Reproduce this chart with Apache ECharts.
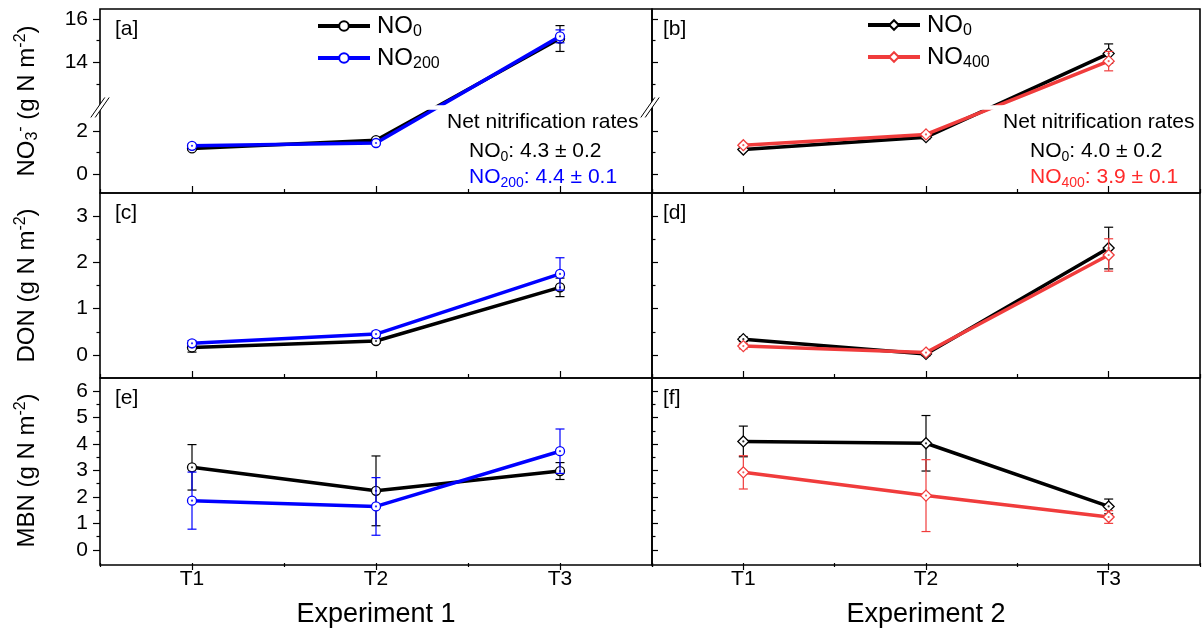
<!DOCTYPE html>
<html><head><meta charset="utf-8">
<script src="https://cdn.jsdelivr.net/npm/echarts@6.0.0/dist/echarts.min.js"></script>
<style>html,body{margin:0;padding:0;background:#fff;} #c{width:1204px;height:629px;}</style>
</head><body><div id="c"></div>
<script>
// ---------------- DATA ----------------
const categories = ['T1', 'T2', 'T3'];
// NO3- (g N m-2)
const no3_e1_NO0 = [1.20, 1.58, 15.10];
const no3_e1_NO0_err = [0.08, 0.10, 0.60];
const no3_e1_NO200 = [1.32, 1.45, 15.20];
const no3_e1_NO200_err = [0.08, 0.08, 0.30];
const no3_e2_NO0 = [1.15, 1.72, 14.40];
const no3_e2_NO0_err = [0.06, 0.08, 0.45];
const no3_e2_NO400 = [1.35, 1.85, 14.05];
const no3_e2_NO400_err = [0.08, 0.08, 0.45];
// DON (g N m-2)
const don_e1_NO0 = [0.16, 0.30, 1.46];
const don_e1_NO0_err = [0.10, 0.05, 0.20];
const don_e1_NO200 = [0.25, 0.45, 1.75];
const don_e1_NO200_err = [0.06, 0.06, 0.35];
const don_e2_NO0 = [0.34, 0.02, 2.31];
const don_e2_NO0_err = [0.05, 0.04, 0.45];
const don_e2_NO400 = [0.19, 0.05, 2.16];
const don_e2_NO400_err = [0.06, 0.04, 0.35];
// MBN (g N m-2)
const mbn_e1_NO0 = [3.12, 2.23, 2.98];
const mbn_e1_NO0_err = [0.86, 1.32, 0.32];
const mbn_e1_NO200 = [1.86, 1.64, 3.73];
const mbn_e1_NO200_err = [1.08, 1.09, 0.84];
const mbn_e2_NO0 = [4.10, 4.03, 1.64];
const mbn_e2_NO0_err = [0.58, 1.05, 0.28];
const mbn_e2_NO400 = [2.93, 2.05, 1.24];
const mbn_e2_NO400_err = [0.63, 1.36, 0.24];
// tick values
const no3Ticks = [0, 2, 14, 16];
const no3MinorTicks = [1, 13, 15];
const no3Break = { start: 3, end: 12 };
const donTicks = [0, 1, 2, 3];
const donMinorTicks = [0.5, 1.5, 2.5];
const mbnTicks = [0, 1, 2, 3, 4, 5, 6];
const mbnMinorTicks = [0.5, 1.5, 2.5, 3.5, 4.5, 5.5];
const experiments = ['Experiment 1', 'Experiment 2'];
const rates_e1 = ['4.3 ± 0.2', '4.4 ± 0.1'];
const rates_e2 = ['4.0 ± 0.2', '3.9 ± 0.1'];

// ---------------- STYLE / LAYOUT ----------------
const FONT = 'Liberation Sans, Arial, sans-serif';
const BLACK = '#000000', BLUE = '#0000ff', RED = '#f03c3c';
const COLX = [{ left: 100, width: 552 }, { left: 652, width: 548 }];
const ROWY = [
  { top: 9, height: 184, min: -0.87, max: 16.47, major: no3Ticks, minor: no3MinorTicks, breaks: [no3Break],
    name: '{n|NO}{sub|3}{sup|-}{n| (g N m}{sup|-2}{n|)}' },
  { top: 193, height: 185, min: -0.5, max: 3.5, major: donTicks, minor: donMinorTicks,
    name: '{n|DON (g N m}{sup|-2}{n|)}' },
  { top: 378, height: 187, min: -0.5, max: 6.5, major: mbnTicks, minor: mbnMinorTicks,
    name: '{n|MBN (g N m}{sup|-2}{n|)}' }
];
const nameRich = {
  n: { fontSize: 24, fontFamily: FONT, color: '#000', lineHeight: 28 },
  sub: { fontSize: 16, fontFamily: FONT, color: '#000', lineHeight: 16, verticalAlign: 'bottom' },
  sup: { fontSize: 16, fontFamily: FONT, color: '#000', lineHeight: 16, verticalAlign: 'top' }
};

const panels = [
  { row: 0, col: 0, s: [['NO0-1', no3_e1_NO0, no3_e1_NO0_err, BLACK, 'circle'], ['NO200-1', no3_e1_NO200, no3_e1_NO200_err, BLUE, 'circle']] },
  { row: 0, col: 1, s: [['NO0-2', no3_e2_NO0, no3_e2_NO0_err, BLACK, 'diamond'], ['NO400-2', no3_e2_NO400, no3_e2_NO400_err, RED, 'diamond']] },
  { row: 1, col: 0, s: [['NO0-1', don_e1_NO0, don_e1_NO0_err, BLACK, 'circle'], ['NO200-1', don_e1_NO200, don_e1_NO200_err, BLUE, 'circle']] },
  { row: 1, col: 1, s: [['NO0-2', don_e2_NO0, don_e2_NO0_err, BLACK, 'diamond'], ['NO400-2', don_e2_NO400, don_e2_NO400_err, RED, 'diamond']] },
  { row: 2, col: 0, s: [['NO0-1', mbn_e1_NO0, mbn_e1_NO0_err, BLACK, 'circle'], ['NO200-1', mbn_e1_NO200, mbn_e1_NO200_err, BLUE, 'circle']] },
  { row: 2, col: 1, s: [['NO0-2', mbn_e2_NO0, mbn_e2_NO0_err, BLACK, 'diamond'], ['NO400-2', mbn_e2_NO400, mbn_e2_NO400_err, RED, 'diamond']] }
];

function errRender(color) {
  return function (params, api) {
    const i = api.value(0), v = api.value(1), e = api.value(2);
    const p0 = api.coord([i, v + e]), p1 = api.coord([i, v - e]);
    const hw = 4.5, st = { stroke: color, lineWidth: 1.2 };
    return { type: 'group', children: [
      { type: 'line', shape: { x1: p0[0], y1: p0[1], x2: p1[0], y2: p1[1] }, style: st },
      { type: 'line', shape: { x1: p0[0] - hw, y1: p0[1], x2: p0[0] + hw, y2: p0[1] }, style: st },
      { type: 'line', shape: { x1: p1[0] - hw, y1: p1[1], x2: p1[0] + hw, y2: p1[1] }, style: st }
    ] };
  };
}

const grids = [], xAxes = [], yAxes = [], series = [];
const tickLine = { color: '#000', width: 1.2 };
panels.forEach((p, g) => {
  const cx = COLX[p.col], ry = ROWY[p.row];
  grids.push({ left: cx.left, top: ry.top, width: cx.width, height: ry.height, show: false, containLabel: false });
  const bottomRow = p.row === 2;
  const xMajor = {
    type: 'category', gridIndex: g, data: categories, boundaryGap: true, position: 'bottom',
    axisLine: { show: false, onZero: false },
    axisTick: { show: true, alignWithLabel: true, inside: !bottomRow, length: 7, lineStyle: tickLine },
    axisLabel: { show: bottomRow, fontSize: 21, color: '#000', fontFamily: FONT, margin: 6 },
    splitLine: { show: false }
  };
  if (bottomRow) {
    xMajor.name = experiments[p.col];
    xMajor.nameLocation = 'middle';
    xMajor.nameGap = 38;
    xMajor.nameTextStyle = { fontSize: 27, color: '#000', fontFamily: FONT };
  }
  const xMinor = {
    type: 'category', gridIndex: g, data: categories, boundaryGap: true, position: 'bottom',
    axisLine: { show: false, onZero: false },
    axisTick: { show: true, alignWithLabel: false, interval: 0, inside: !bottomRow, length: 4, lineStyle: tickLine },
    axisLabel: { show: false }, splitLine: { show: false }
  };
  xAxes.push(xMajor, xMinor);

  const mkBase = () => {
    const b = { type: 'value', gridIndex: g, min: ry.min, max: ry.max, position: 'left',
      splitLine: { show: false }, axisLine: { show: false, onZero: false } };
    if (ry.breaks) {
      b.breaks = ry.breaks.map(br => ({ start: br.start, end: br.end, gap: 0.2 }));
      b.breakArea = { show: true, itemStyle: { color: '#fff', borderColor: '#fff', borderWidth: 0, opacity: 1 },
        zigzagAmplitude: 0, zigzagZ: 50, expandOnClick: false };
    }
    return b;
  };
  const yMajor = Object.assign(mkBase(), {
    axisTick: { show: true, inside: p.col === 1, length: p.col === 1 ? 6 : 7, customValues: ry.major, lineStyle: tickLine },
    axisLabel: { show: p.col === 0, customValues: ry.major, fontSize: 21, color: '#000', fontFamily: FONT, margin: 12 }
  });
  if (p.col === 0) {
    yMajor.name = ry.name;
    yMajor.nameLocation = 'middle';
    yMajor.nameRotate = 90;
    yMajor.nameGap = 59;
    yMajor.nameTextStyle = { rich: nameRich };
  }
  const yMinor = Object.assign(mkBase(), {
    axisTick: { show: true, inside: p.col === 1, length: 3.5, customValues: ry.minor, lineStyle: tickLine },
    axisLabel: { show: false }
  });
  yAxes.push(yMajor, yMinor);

  p.s.forEach((s, k) => {
    const [name, vals, errs, color, sym] = s;
    series.push({
      type: 'custom', xAxisIndex: 2 * g, yAxisIndex: 2 * g, silent: true, z: 2 + k * 3,
      data: vals.map((v, i) => [i, v, errs[i]]), renderItem: errRender(color)
    });
    series.push({
      type: 'line', name: name, xAxisIndex: 2 * g, yAxisIndex: 2 * g, data: vals, z: 3 + k * 3,
      symbol: sym, symbolSize: sym === 'diamond' ? 11 : 9, showSymbol: true,
      lineStyle: { color: color, width: 3.5 },
      itemStyle: { color: '#fff', borderColor: color, borderWidth: 1.3 },
      emphasis: { disabled: true }
    });
    series.push({
      type: 'scatter', xAxisIndex: 2 * g, yAxisIndex: 2 * g, data: vals, z: 4 + k * 3, silent: true,
      symbol: 'circle', symbolSize: 2.2, itemStyle: { color: color }
    });
  });
});

const legendMap = {
  'NO0-1': '{n|NO}{s|0}', 'NO200-1': '{n|NO}{s|200}',
  'NO0-2': '{n|NO}{s|0}', 'NO400-2': '{n|NO}{s|400}'
};
const legendRich = {
  n: { fontSize: 24, fontFamily: FONT, color: '#000', lineHeight: 28 },
  s: { fontSize: 16, fontFamily: FONT, color: '#000', lineHeight: 16, verticalAlign: 'bottom' }
};
const legends = [
  { data: ['NO0-1', 'NO200-1'], left: 316, top: 14 },
  { data: ['NO0-2', 'NO400-2'], left: 866, top: 13 }
].map(l => Object.assign(l, {
  orient: 'vertical', itemWidth: 52, itemHeight: 12, itemGap: 6, padding: 0, selectedMode: false,
  lineStyle: { width: 4 },
  formatter: n => legendMap[n], textStyle: { rich: legendRich, padding: [0, 0, 0, 2] }
}));

const chart = echarts.init(document.getElementById('c'), null, { renderer: 'canvas' });
chart.setOption({
  animation: false, backgroundColor: '#fff',
  grid: grids, xAxis: xAxes, yAxis: yAxes, series: series, legend: legends
});

// ----------- decorations (frames, labels, annotations, break marks) -----------
const gfx = [];
panels.forEach((p, g) => {
  const cx = COLX[p.col], ry = ROWY[p.row];
  gfx.push({ type: 'rect', z: 100, silent: true, shape: { x: cx.left, y: ry.top, width: cx.width, height: ry.height },
    style: { fill: null, stroke: '#000', lineWidth: 1.6 } });
  gfx.push({ type: 'text', z: 100, silent: true, x: cx.left + (p.col === 0 ? 15 : 11), y: ry.top + 20,
    style: { text: '[' + 'abcdef'[g] + ']', fill: '#000', fontSize: 21, fontFamily: FONT, verticalAlign: 'middle', align: 'left' } });
});
function annRich(color) {
  return {
    n: { fontSize: 21, fontFamily: FONT, fill: color, lineHeight: 26 },
    s: { fontSize: 14, fontFamily: FONT, fill: color, lineHeight: 14, verticalAlign: 'bottom' }
  };
}
function annotation(x0, x1, sub, rates, color2) {
  gfx.push({ type: 'text', z: 100, silent: true, x: x0, y: 122,
    style: { text: 'Net nitrification rates', fill: '#000', fontSize: 21, fontFamily: FONT, verticalAlign: 'middle', align: 'left' } });
  gfx.push({ type: 'text', z: 100, silent: true, x: x1, y: 151,
    style: { text: '{n|NO}{s|0}{n|: ' + rates[0] + '}', rich: annRich('#000'), fill: '#000', verticalAlign: 'middle', align: 'left' } });
  gfx.push({ type: 'text', z: 100, silent: true, x: x1, y: 177,
    style: { text: '{n|NO}{s|' + sub + '}{n|: ' + rates[1] + '}', rich: annRich(color2), fill: color2, verticalAlign: 'middle', align: 'left' } });
}
annotation(447, 469, '200', rates_e1, BLUE);
annotation(1003, 1030, '400', rates_e2, '#ff2a2a');

// break marks on y axes of the NO3- panels
[0, 1].forEach(g => {
  const ya = chart.convertToPixel({ yAxisIndex: 2 * g }, no3Break.start);
  const yb = chart.convertToPixel({ yAxisIndex: 2 * g }, no3Break.end);
  const yc = (ya + yb) / 2;
  const xc = COLX[g].left - (g === 1 ? 2 : 0);
  const d = 2.2;
  gfx.push({ type: 'polygon', z: 101, silent: true,
    shape: { points: [[xc - 7 - d, yc + 10], [xc + 7 - d, yc - 10], [xc + 7 + d, yc - 10], [xc - 7 + d, yc + 10]] },
    style: { fill: '#fff', stroke: null } });
  gfx.push({ type: 'line', z: 102, silent: true, shape: { x1: xc - 7 - d, y1: yc + 10, x2: xc + 7 - d, y2: yc - 10 }, style: { stroke: '#000', lineWidth: 1 } });
  gfx.push({ type: 'line', z: 102, silent: true, shape: { x1: xc - 7 + d, y1: yc + 10, x2: xc + 7 + d, y2: yc - 10 }, style: { stroke: '#000', lineWidth: 1 } });
});
chart.setOption({ graphic: { elements: gfx } });
</script>
</body></html>
